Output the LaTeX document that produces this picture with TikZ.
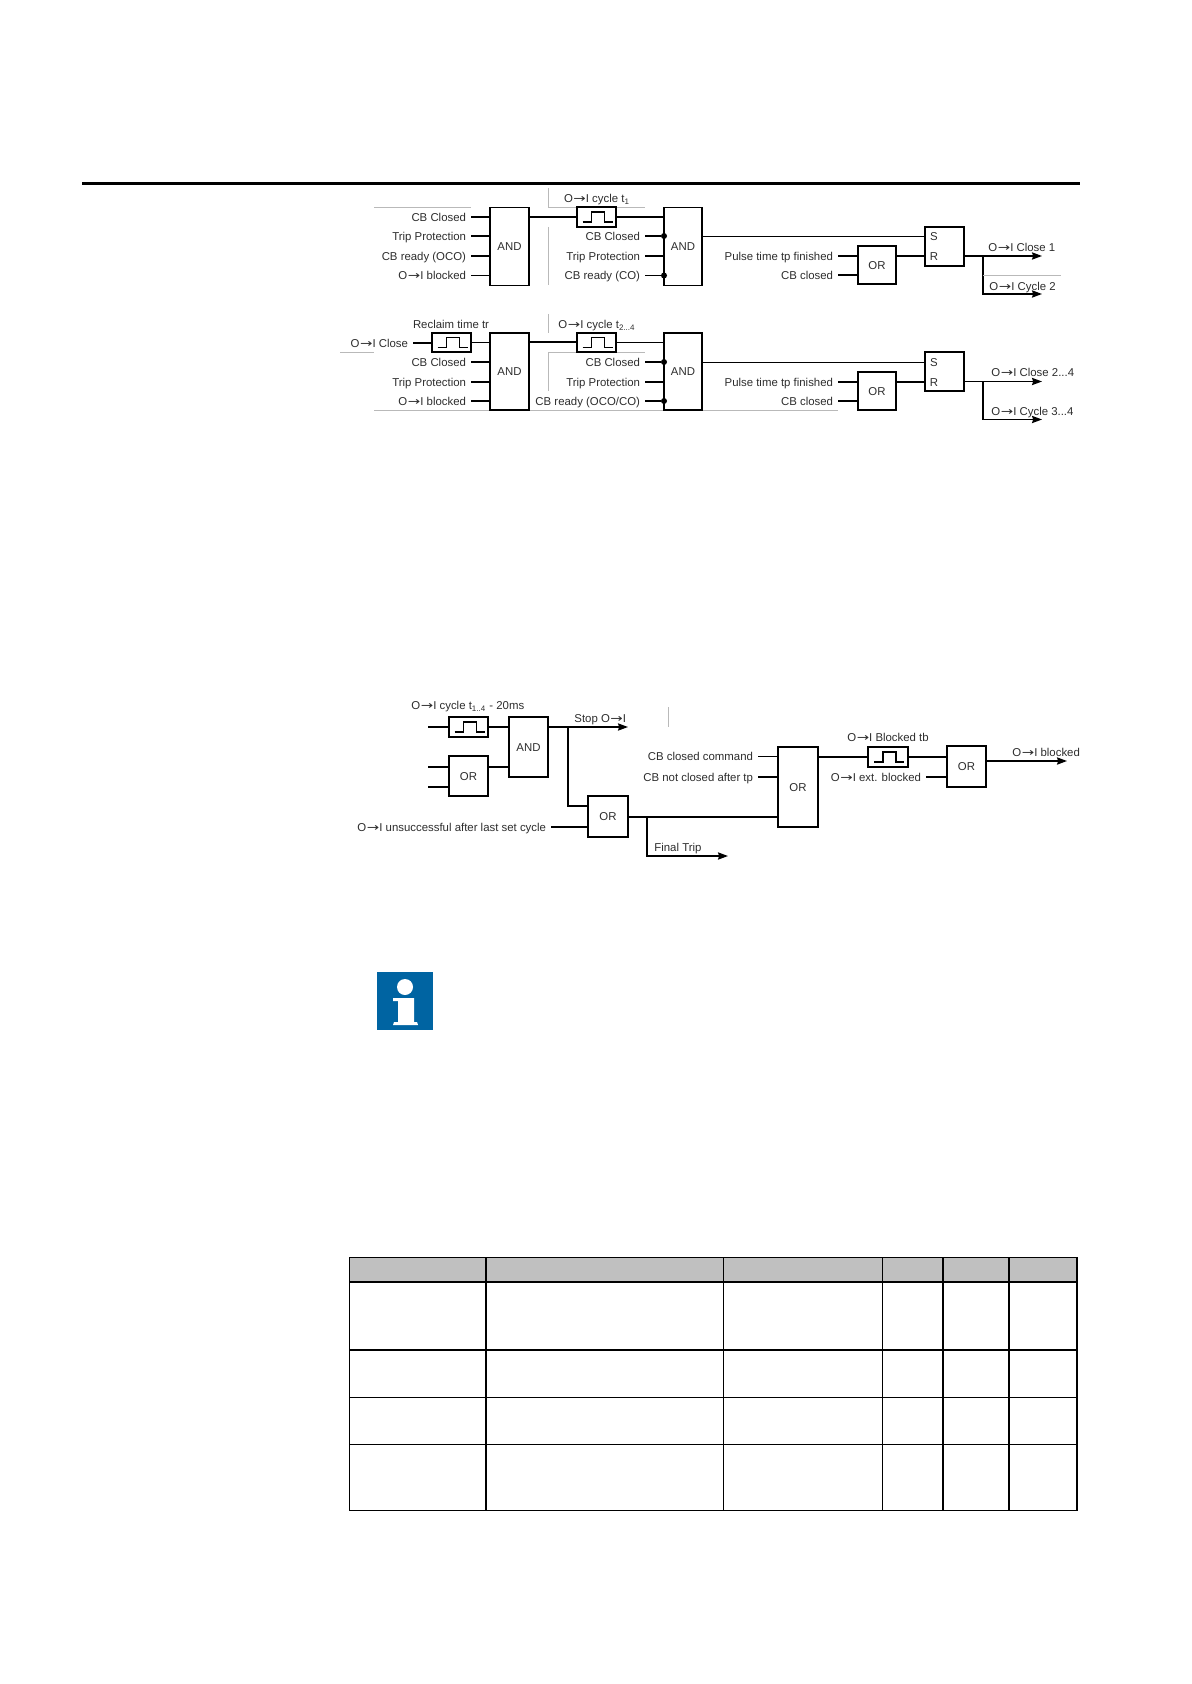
\documentclass[tikz,border=0pt]{standalone}
\usepackage{fontspec}
\usepackage{tikz}
\usepackage{xcolor}
\usetikzlibrary{arrows.meta}
\setmainfont{Liberation Sans}
\newfontfamily\arrowfont{DejaVu Sans}
\definecolor{infoblue}{RGB}{0,100,162}
\definecolor{headgray}{RGB}{192,192,192}
\definecolor{inkgray}{RGB}{45,45,45}
\newcommand{\lblfont}{\fontsize{5.7}{6.5}\selectfont}
\newcommand{\otoi}{O\kern.3pt\scalebox{1.3}[1]{\arrowfont→}I}
\tikzset{
  gate/.style 2 args={draw,line width=.8pt,inner sep=0pt,outer sep=0pt,text=inkgray,text height=4.1pt,text depth=0pt,minimum width=#1*.5pt,minimum height=#2*.5pt},
  pulsebox/.style 2 args={draw,line width=1pt,inner sep=0pt,outer sep=0pt,minimum width=#1*.5pt,minimum height=#2*.5pt,
    path picture={\draw[line width=.7pt] ([shift={(-7pt,-2.5pt)}]path picture bounding box.center) -- ++(4.5pt,0) -- ++(0,5pt) -- ++(6.5pt,0) -- ++(0,-5pt) -- ++(4pt,0);}},
  lbl/.style={anchor=east,inner xsep=2.5pt,inner ysep=0pt,outer sep=0pt,text=inkgray,text height=4.1pt,text depth=0pt},
  ctext/.style={inner sep=0pt,text=inkgray,text height=4.1pt,text depth=0pt},
  ltext/.style={anchor=west,inner sep=0pt,text=inkgray,text height=4.1pt,text depth=0pt},
  wire/.style={line width=.6pt},
  midwire/.style={line width=.8pt},
  heavy/.style={line width=1pt},
  outwire/.style={line width=.8pt,->,>={Stealth[length=5pt,width=3.6pt,inset=.6pt]}},
  aid/.style={line width=.35pt,draw=gray!55},
  dotpt/.style={circle,fill=black,inner sep=0pt,minimum size=3pt}
}

\begin{document}
\begin{tikzpicture}[x=.5pt,y=-.5pt,every node/.style={font=\lblfont}]
  \useasboundingbox (0,0) rectangle (1191,1684);
  \draw[line width=1.5pt] (82,183.5)--(1080,183.5);

  % first cycle
  \draw[aid] (374,207.5)--(471,207.5);
  \draw[aid] (548.5,188)--(548.5,207.5)--(645,207.5);
  \draw[aid] (548.5,227)--(548.5,285);
  \node[gate={39}{78}] (andA) at (509.5,246.5) {AND};
  \node[gate={38}{78}] (andB) at (683,246.5) {AND};
  \node[pulsebox={39}{20}] (pulseA) at (596.5,217) {};
  \node[ctext] (pulseAtxt) at (597,198) {\otoi{} cycle t\textsubscript{1}};
  \node[lbl] (cbA) at (471,217) {CB Closed};
  \node[lbl] (tripA) at (471,236) {Trip Protection};
  \node[lbl] (readyA) at (471,256) {CB ready (OCO)};
  \node[lbl] (blockA) at (471,275.5) {\otoi{} blocked};
  \node[lbl] (cbB) at (645,236) {CB Closed};
  \node[lbl] (tripB) at (645,256) {Trip Protection};
  \node[lbl] (readyB) at (645,275.5) {CB ready (CO)};
  \node[dotpt] (cbBdot) at (664,236) {};
  \node[dotpt] (readyBdot) at (664,275.5) {};
  \draw[wire] (cbA.east)--(cbA.east -| andA.west);
  \draw[heavy] (tripA.east)--(tripA.east -| andA.west);
  \draw[heavy] (readyA.east)--(readyA.east -| andA.west);
  \draw[wire] (blockA.east)--(blockA.east -| andA.west);
  \draw[heavy] (andA.east |- pulseA.west)--(pulseA.west);
  \draw[wire] (pulseA.east)--(pulseA.east -| andB.west);
  \draw[heavy] (cbB.east)--(cbBdot);
  \draw[heavy] (tripB.east)--(tripB.east -| andB.west);
  \draw[wire] (readyB.east)--(readyBdot);

  \node[gate={39}{39}] (srA) at (944.5,246.5) {};
  \node[ctext] (srAs) at (934,236.5) {S};
  \node[ctext] (srAr) at (934,256) {R};
  \node[gate={38}{38}] (orA) at (877,265) {OR};
  \node[lbl] (pulseEndA) at (838,256) {Pulse time tp finished};
  \node[lbl] (closedA) at (838,275) {CB closed};
  \draw[midwire] (andB.east |- srAs)--(srA.west |- srAs);
  \draw[heavy] (pulseEndA.east)--(pulseEndA.east -| orA.west);
  \draw[wire] (closedA.east)--(closedA.east -| orA.west);
  \draw[heavy] (orA.east |- srAr)--(srA.west |- srAr);
  \coordinate (branchA) at (983,256);
  \coordinate (closeAend) at (1042,256);
  \coordinate (cycleAend) at (1042,294);
  \draw[outwire] (srA.east |- branchA)--(closeAend);
  \draw[outwire] (branchA)|-(cycleAend);
  \draw[aid] (983,275.5)--(1061,275.5);
  \node[ltext] (closeAtxt) at (988,247) {\otoi{} Close 1};
  \node[ltext] (cycleAtxt) at (989,286) {\otoi{} Cycle 2};

  % later cycles
  \draw[aid] (340,352.5)--(374,352.5);
  \draw[aid] (374,410.5)--(838,410.5);
  \draw[aid] (548.5,314)--(548.5,333);
  \draw[aid] (548.5,391)--(548.5,352.5)--(645,352.5);
  \node[gate={39}{77}] (andC) at (509.5,371.5) {AND};
  \node[gate={38}{77}] (andD) at (683,371.5) {AND};
  \node[pulsebox={39}{19}] (pulseR) at (451.5,342.5) {};
  \node[pulsebox={39}{19}] (pulseC) at (596.5,342.5) {};
  \node[ctext] (pulseRtxt) at (451,324) {Reclaim time tr};
  \node[ctext] (pulseCtxt) at (597,324) {\otoi{} cycle t\textsubscript{2...4}};
  \node[lbl] (closeIn) at (413,343) {\otoi{} Close};
  \node[lbl] (cbC) at (471,362) {CB Closed};
  \node[lbl] (tripC) at (471,382) {Trip Protection};
  \node[lbl] (blockC) at (471,401) {\otoi{} blocked};
  \node[lbl] (cbD) at (645,362) {CB Closed};
  \node[lbl] (tripD) at (645,382) {Trip Protection};
  \node[lbl] (readyD) at (645,401) {CB ready (OCO/CO)};
  \node[dotpt] (cbDdot) at (664,362) {};
  \node[dotpt] (readyDdot) at (664,401) {};
  \draw[wire] (closeIn.east)--(closeIn.east -| pulseR.west);
  \draw[wire] (pulseR.east)--(pulseR.east -| andC.west);
  \draw[wire] (cbC.east)--(cbC.east -| andC.west);
  \draw[heavy] (tripC.east)--(tripC.east -| andC.west);
  \draw[wire] (blockC.east)--(blockC.east -| andC.west);
  \draw[heavy] (andC.east |- pulseC.west)--(pulseC.west);
  \draw[wire] (pulseC.east)--(pulseC.east -| andD.west);
  \draw[heavy] (cbD.east)--(cbDdot);
  \draw[heavy] (tripD.east)--(tripD.east -| andD.west);
  \draw[wire] (readyD.east)--(readyDdot);

  \node[gate={39}{39}] (srB) at (944.5,371.5) {};
  \node[ctext] (srBs) at (934,362.5) {S};
  \node[ctext] (srBr) at (934,382) {R};
  \node[gate={38}{38}] (orB) at (877,391) {OR};
  \node[lbl] (pulseEndB) at (838,382) {Pulse time tp finished};
  \node[lbl] (closedB) at (838,401) {CB closed};
  \draw[midwire] (andD.east |- srBs)--(srB.west |- srBs);
  \draw[heavy] (pulseEndB.east)--(pulseEndB.east -| orB.west);
  \draw[heavy] (closedB.east)--(closedB.east -| orB.west);
  \draw[wire] (orB.east |- srBr)--(srB.west |- srBr);
  \coordinate (branchB) at (983,381.5);
  \coordinate (closeBend) at (1042,381.5);
  \coordinate (cycleBend) at (1042,419.5);
  \draw[outwire] (srB.east |- branchB)--(closeBend);
  \draw[outwire] (branchB)|-(cycleBend);
  \node[ltext] (closeBtxt) at (991,372) {\otoi{} Close 2...4};
  \node[ltext] (cycleBtxt) at (991,411) {\otoi{} Cycle 3...4};

  % blocking logic
  \draw[aid] (668,707)--(668,727);
  \node[pulsebox={39}{20}] (pulseS) at (468.5,727) {};
  \node[gate={39}{60}] (andS) at (528.5,747) {AND};
  \node[gate={39}{40}] (orS) at (468.5,776) {OR};
  \node[gate={40}{41}] (orT) at (608,816.5) {OR};
  \node[gate={40}{80}] (orU) at (798,787) {OR};
  \node[pulsebox={40}{20}] (pulseV) at (888,757) {};
  \node[gate={39}{41}] (orV) at (966.5,766.5) {OR};
  \node[ltext] (pulseStxt) at (411,705) {\otoi{} cycle t\textsubscript{1..4} - 20ms};
  \node[ltext] (stopTxt) at (574,718) {Stop \otoi};
  \node[lbl] (unsucc) at (551,827) {\otoi{} unsuccessful after last set cycle};
  \node[ltext] (finalTxt) at (654,847) {Final Trip};
  \node[lbl] (cmd) at (758,756.5) {CB closed command};
  \node[lbl] (notClosed) at (758,777) {CB not closed after tp};
  \node[ctext] (pulseVtxt) at (888,737) {\otoi{} Blocked tb};
  \node[lbl] (extBlock) at (926,777) {\otoi{} ext. blocked};
  \node[ltext] (blockedTxt) at (1012,752) {\otoi{} blocked};
  \coordinate (pulseSin) at (428,727);
  \coordinate (orSinA) at (428,767);
  \coordinate (orSinB) at (428,787);
  \coordinate (stopEnd) at (628,727);
  \coordinate (stopJoin) at (568,727);
  \coordinate (orTinA) at (588,806);
  \coordinate (finalJoin) at (647,817);
  \coordinate (finalEnd) at (728,856);
  \coordinate (blockedEnd) at (1067,761);
  \draw[heavy] (pulseSin)--(pulseS.west);
  \draw[heavy] (pulseS.east)--(pulseS.east -| andS.west);
  \draw[wire] (orSinA)--(orSinA -| orS.west);
  \draw[heavy] (orSinB)--(orSinB -| orS.west);
  \draw[wire] (orS.east |- orSinA)--(andS.west |- orSinA);
  \draw[outwire] (andS.east |- stopEnd)--(stopEnd);
  \draw[wire] (stopJoin)|-(orTinA);
  \draw[heavy] (unsucc.east)--(unsucc.east -| orT.west);
  \draw[wire] (orT.east |- finalJoin)--(finalJoin -| orU.west);
  \draw[outwire] (finalJoin)|-(finalEnd);
  \draw[wire] (cmd.east)--(cmd.east -| orU.west);
  \draw[heavy] (notClosed.east)--(notClosed.east -| orU.west);
  \draw[wire] (orU.east |- pulseV.west)--(pulseV.west);
  \draw[wire] (pulseV.east)--(pulseV.east -| orV.west);
  \draw[heavy] (extBlock.east)--(extBlock.east -| orV.west);
  \draw[outwire] (orV.east |- blockedEnd)--(blockedEnd);

  % note icon
  \fill[infoblue] (377,972) rectangle (433,1030);
  \fill[white] (405,987) circle (4pt);
  \fill[white] (393,998)--(414,998)--(414,1022)--(417,1022)--(418,1025)--(393,1025)--(394,1022)--(398,1022)--(398,1001)--(393,1001)--cycle;

  % table
  \fill[headgray] (349.5,1257.5) rectangle (1077,1282);
  \draw[line width=.6pt] (349.5,1257.5) rectangle (1077,1510.5);
  \foreach \rowy/\rowlw in {1282/.6pt,1350/1pt,1397.5/.6pt,1444.5/.6pt}
    \draw[line width=\rowlw] (349.5,\rowy)--(1077,\rowy);
  \foreach \colx/\collw in {485.5/1pt,723/.5pt,882/.5pt,943/1pt,1008.5/1pt}
    \draw[line width=\collw] (\colx,1257.5)--(\colx,1510.5);
\end{tikzpicture}
\end{document}
